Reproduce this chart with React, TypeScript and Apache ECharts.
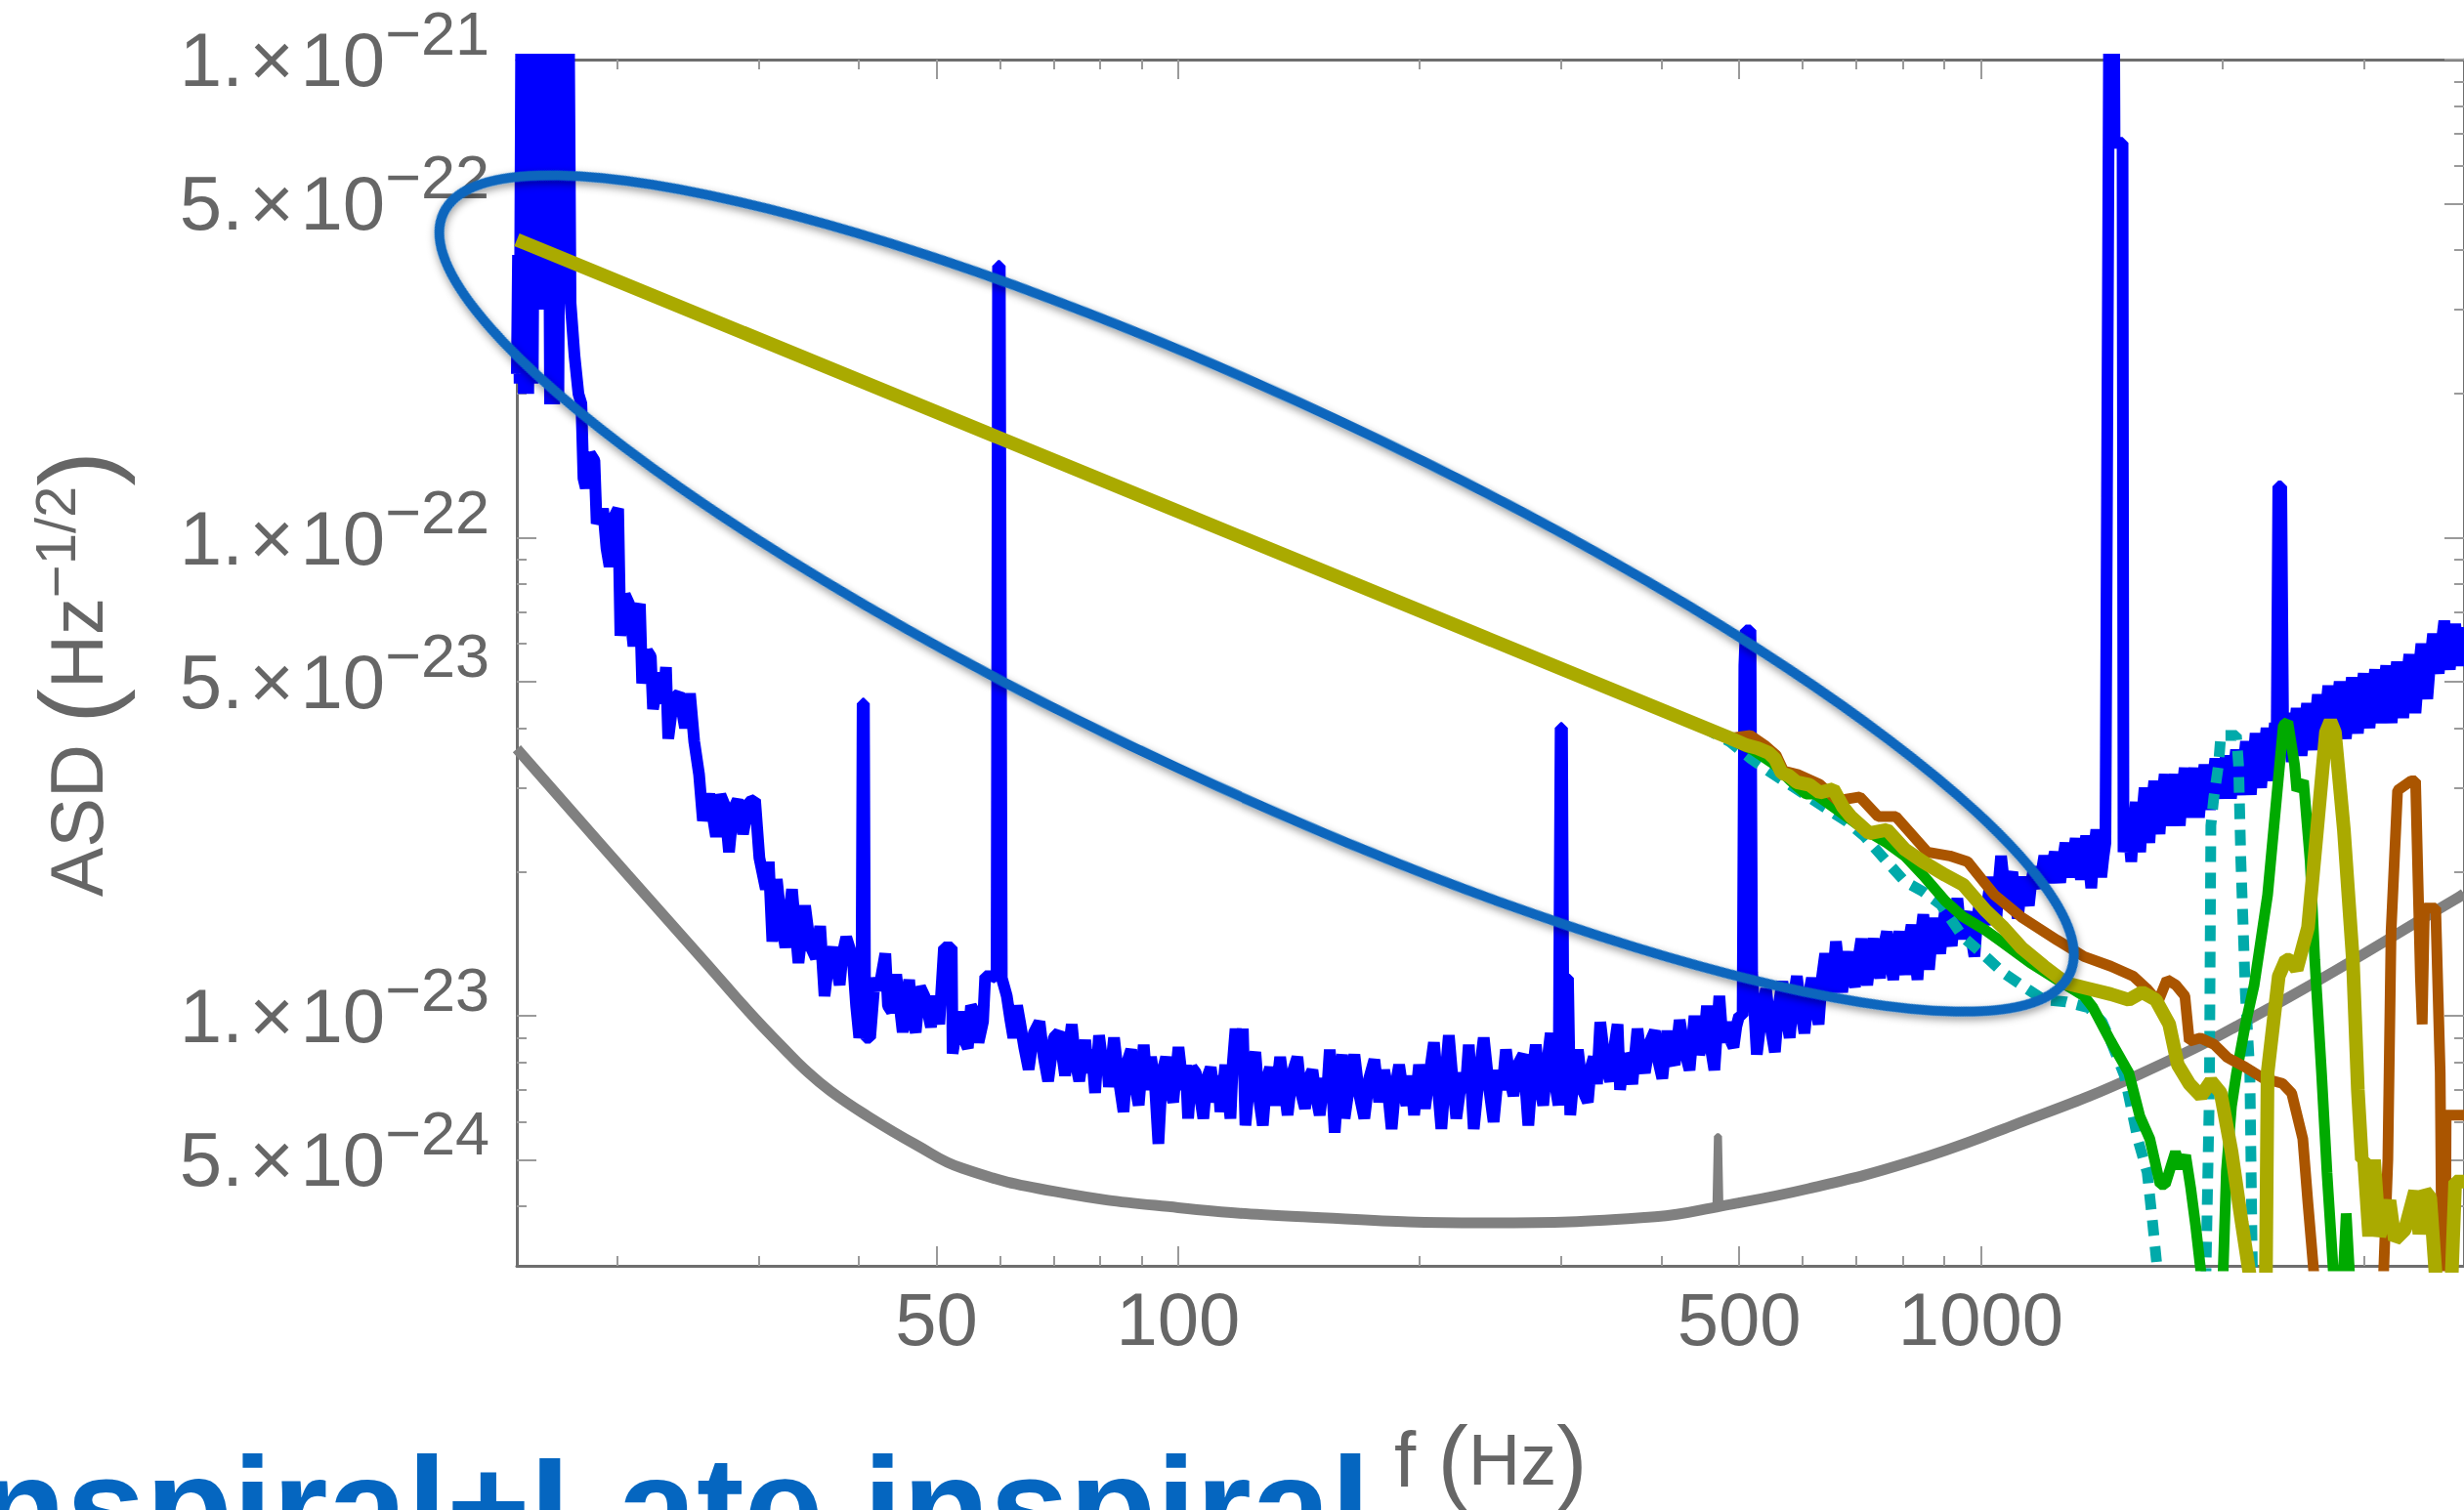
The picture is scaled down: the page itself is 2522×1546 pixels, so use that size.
import React, { useEffect, useRef } from "react";
import * as echarts from "echarts";

// ---------- axis ticks ----------
const xMajorTicks = [50, 100, 500, 1000];
const xMinorTicks = [20, 30, 40, 60, 70, 80, 90, 200, 300, 400, 600, 700, 800, 900, 2000, 3000];
const yMajorTicks = [5e-24, 1e-23, 5e-23, 1e-22, 5e-22, 1e-21];
const yMinorTicks = [4e-24, 6e-24, 7e-24, 8e-24, 9e-24, 2e-23, 3e-23, 4e-23, 6e-23, 7e-23, 8e-23, 9e-23, 2e-22, 3e-22, 4e-22, 6e-22, 7e-22, 8e-22, 9e-22];
const xRange = [15, 4000];
const yRange = [3e-24, 1e-21];
// ECharts rounds very small numbers, so the y values are plotted in units of 1e-24
const Y_UNIT = 1e-24;

// ---------- design sensitivity (gray) ----------
const designASD: [number, number][] = [
  [15, 3.62e-23], [20.6, 1.975e-23], [25.8, 1.29e-23], [29.5, 1.0e-23], [32.3, 8.53e-24], [34.2, 7.75e-24],
  [36.9, 6.96e-24], [41.1, 6.16e-24], [47.1, 5.38e-24], [53.8, 4.8e-24], [70.2, 4.29e-24], [100, 3.97e-24],
  [143, 3.8e-24], [240, 3.69e-24], [393, 3.8e-24], [475, 4.0e-24], [610, 4.35e-24], [817, 4.95e-24],
  [1094, 5.89e-24], [1581, 7.56e-24], [2294, 1.04e-23], [3896, 1.75e-23], [4000, 1.8e-23],
];
const designLine: [number, number][] = [
  [464, 3.96e-24], [467, 3.98e-24], [469, 5.6e-24], [472, 5.6e-24], [474, 3.95e-24], [477, 4.0e-24],
];

// ---------- measured detector noise (blue) ----------
const measuredASD: [number, number][] = [
  [15.0, 2.2e-22], [15.05, 3.9e-22], [15.12, 2.1e-22], [15.2, 1.5e-21], [15.3, 2.0e-22], [15.4, 1.5e-21],
  [15.5, 2.0e-22], [15.6, 1.5e-21], [15.7, 2.1e-22], [15.8, 1.5e-21], [15.9, 3.0e-22], [16.0, 1.5e-21],
  [16.1, 3.0e-22], [16.2, 1.5e-21], [16.3, 5.4e-22], [16.4, 1.5e-21], [16.5, 1.9e-22], [16.6, 1.5e-21],
  [16.7, 1.9e-22], [16.8, 1.5e-21], [16.9, 2.0e-22], [17.0, 1.5e-21], [17.1, 3.2e-22], [17.2, 1.5e-21],
  [17.3, 3.2e-22], [17.4, 1.5e-21], [17.5, 3.1e-22], [17.7, 2.4e-22], [17.9, 2.0e-22],
  [18.05, 1.91e-22], [18.16, 1.33e-22], [18.28, 1.27e-22], [18.5, 1.5e-22], [18.74, 1.45e-22], [18.86, 1.07e-22],
  [19.21, 1.15e-22], [19.4, 9.5e-23], [19.57, 8.7e-23], [19.8, 1.1e-22], [20.06, 1.15e-22], [20.19, 6.24e-23],
  [20.45, 7.6e-23], [20.7, 7.27e-23], [20.96, 5.93e-23], [21.2, 7.0e-23], [21.35, 7.27e-23], [21.49, 4.96e-23],
  [21.8, 5.8e-23], [22.03, 5.64e-23], [22.17, 4.38e-23], [22.59, 5.22e-23], [22.8, 4.5e-23], [23.01, 5.36e-23],
  [23.16, 3.8e-23], [23.5, 4.6e-23], [23.89, 4.72e-23], [24.3, 4.0e-23], [24.65, 4.72e-23], [24.95, 3.75e-23],
  [25.3, 3.2e-23], [25.58, 2.56e-23], [26.06, 2.91e-23], [26.56, 2.37e-23], [26.9, 2.9e-23], [27.23, 2.76e-23],
  [27.57, 2.2e-23], [27.9, 2.7e-23], [28.27, 2.83e-23], [28.7, 2.4e-23], [29.2, 2.8e-23], [29.71, 2.83e-23],
  [30.08, 2.14e-23], [30.64, 1.84e-23], [30.9, 2.1e-23], [31.22, 1.43e-23], [31.62, 1.93e-23], [32.0, 1.6e-23],
  [32.41, 1.39e-23], [33.03, 1.84e-23], [33.65, 1.29e-23], [34.29, 1.7e-23], [34.8, 1.4e-23], [35.37, 1.32e-23],
  [35.81, 1.54e-23], [36.26, 1.1e-23], [36.7, 1.3e-23], [37.17, 1.39e-23], [37.87, 1.16e-23], [38.2, 1.35e-23],
  [38.59, 1.46e-23], [39.32, 1.32e-23], [39.7, 1.05e-23], [40.06, 9.0e-24],
  [40.3, 9.5e-24], [40.45, 4.5e-23], [40.6, 4.5e-23], [40.75, 9.0e-24], [41.33, 9.0e-24],
  [41.9, 1.2e-23], [42.37, 1.13e-23], [43.17, 1.35e-23], [43.5, 1.05e-23], [43.98, 1.02e-23], [44.54, 1.22e-23],
  [45.38, 9.24e-24], [46.23, 1.19e-23], [46.6, 9.8e-24], [47.1, 9.24e-24], [47.7, 1.15e-23], [48.3, 1.1e-23],
  [49.21, 9.48e-24], [49.82, 1.1e-23], [50.4, 9.6e-24], [51.08, 1.39e-23], [52.23, 1.39e-23], [52.36, 8.34e-24],
  [53.35, 1.02e-23], [54.0, 9.0e-24], [54.7, 8.56e-24], [55.2, 1.05e-23], [55.73, 1.02e-23], [56.4, 8.8e-24],
  [57.14, 9.72e-24], [57.5, 1.21e-23], [58.81, 1.21e-23],
  [59.4, 1.2e-23], [59.65, 3.7e-22], [59.95, 3.7e-22], [60.3, 1.2e-23],
  [61.17, 1.1e-23], [61.8, 9.8e-24], [62.33, 9.0e-24], [63.0, 1.05e-23], [63.52, 9.72e-24], [64.3, 8.6e-24],
  [65.12, 7.73e-24], [66.1, 9.2e-24], [67.19, 9.72e-24], [68.0, 8.2e-24], [68.87, 7.3e-24], [70.0, 9.0e-24],
  [71.05, 9.24e-24], [72.3, 7.5e-24], [73.0, 8.4e-24], [73.7, 9.6e-24], [74.5, 8.0e-24], [75.3, 7.3e-24],
  [76.6, 8.9e-24], [77.3, 7.6e-24], [78.0, 8.5e-24], [78.8, 6.9e-24], [79.7, 9.1e-24], [80.8, 7.6e-24],
  [81.4, 8.3e-24], [82.0, 7.1e-24], [83.2, 9.0e-24], [84.3, 7.4e-24], [85.5, 6.3e-24], [86.4, 8.0e-24],
  [87.4, 8.5e-24], [88.3, 7.2e-24], [89.3, 6.5e-24], [90.6, 8.7e-24], [91.5, 7.0e-24], [92.5, 8.2e-24],
  [93.5, 7.3e-24], [94.5, 5.4e-24], [95.5, 7.6e-24], [96.6, 8.2e-24], [97.6, 7.0e-24], [98.6, 6.6e-24],
  [100.1, 8.6e-24], [101.5, 7.0e-24], [102.2, 7.9e-24], [102.9, 6.1e-24], [104.0, 7.8e-24], [105.2, 7.6e-24],
  [106.3, 6.9e-24], [107.5, 6.1e-24], [108.6, 7.4e-24], [109.8, 7.8e-24], [111.3, 6.6e-24], [112.1, 7.5e-24],
  [112.9, 6.3e-24], [114.5, 7.9e-24], [115.3, 6.9e-24], [116.2, 6.1e-24], [117.0, 8.0e-24], [117.9, 9.4e-24],
  [119.0, 7.8e-24], [120.4, 9.4e-24], [121.3, 5.9e-24], [123.0, 7.6e-24], [124.8, 8.4e-24], [126.0, 6.8e-24],
  [127.5, 5.9e-24], [128.8, 7.3e-24], [130.2, 7.8e-24], [132.0, 6.5e-24], [134.0, 8.2e-24], [135.5, 7.1e-24],
  [136.9, 6.2e-24], [138.8, 7.6e-24], [140.8, 8.2e-24], [142.3, 6.9e-24], [143.9, 6.4e-24], [145.5, 7.4e-24],
  [147.0, 7.7e-24], [148.5, 6.8e-24], [150.1, 6.2e-24], [152.0, 7.4e-24], [153.2, 6.8e-24], [154.5, 8.5e-24],
  [155.6, 7.0e-24], [156.7, 5.7e-24], [158.4, 7.3e-24], [160.1, 8.3e-24], [161.2, 6.1e-24], [163.5, 7.2e-24],
  [165.8, 8.3e-24], [168.0, 6.9e-24], [170.6, 6.1e-24], [173.0, 7.4e-24], [175.6, 8.1e-24], [178.0, 6.6e-24],
  [180.6, 7.7e-24], [182.5, 7.0e-24], [184.5, 5.8e-24], [186.5, 7.1e-24], [188.5, 7.9e-24], [190.5, 7.0e-24],
  [192.5, 6.5e-24], [194.7, 7.5e-24], [196.8, 6.2e-24], [199.6, 7.9e-24], [203.0, 6.4e-24], [205.6, 7.5e-24],
  [208.3, 8.8e-24], [210.5, 7.2e-24], [212.8, 5.8e-24], [215.0, 7.3e-24], [217.4, 9.1e-24], [219.7, 7.4e-24],
  [222.1, 6.1e-24], [226.0, 7.6e-24], [228.0, 6.9e-24], [230.2, 8.7e-24], [231.9, 7.1e-24], [233.5, 5.8e-24],
  [236.9, 7.4e-24], [240.3, 9.0e-24], [243.7, 7.2e-24], [247.2, 6.0e-24], [250.7, 7.7e-24], [253.4, 7.0e-24],
  [256.1, 8.5e-24], [258.9, 7.4e-24], [261.7, 6.8e-24], [265.0, 7.9e-24], [269.2, 8.3e-24], [271.1, 7.0e-24],
  [273.1, 5.9e-24], [276.0, 7.5e-24], [279.0, 8.7e-24], [282.0, 7.2e-24], [285.0, 6.5e-24], [288.1, 7.9e-24],
  [291.2, 9.2e-24], [294.5, 7.3e-24], [297.8, 6.5e-24],
  [299.6, 4.0e-23], [300.8, 4.0e-23], [301.8, 1.2e-23], [306.0, 1.2e-23], [308.0, 6.2e-24],
  [311.4, 7.6e-24], [314.8, 8.5e-24], [319.0, 7.0e-24], [323.9, 6.6e-24], [326.7, 7.8e-24], [329.5, 8.2e-24],
  [332.6, 7.2e-24], [335.7, 9.7e-24], [340.5, 7.9e-24], [345.4, 7.3e-24], [349.1, 8.5e-24], [352.8, 9.6e-24],
  [355.3, 7.0e-24], [359.6, 8.3e-24], [364.0, 8.0e-24], [368.0, 7.2e-24], [373.5, 9.4e-24], [377.5, 8.1e-24],
  [381.5, 7.6e-24], [387.0, 8.8e-24], [392.6, 9.3e-24], [396.8, 8.0e-24], [401.1, 7.4e-24], [406.8, 9.3e-24],
  [411.2, 8.2e-24], [415.6, 7.9e-24], [421.5, 9.8e-24], [428.0, 8.4e-24], [433.7, 7.7e-24], [436.8, 8.8e-24],
  [439.9, 1.0e-23], [446.0, 8.3e-24], [452.6, 9.1e-24], [455.9, 1.05e-23], [460.8, 8.6e-24], [465.7, 7.7e-24],
  [469.0, 9.2e-24], [472.4, 1.1e-23], [477.0, 8.8e-24], [482.6, 9.7e-24], [487.3, 8.9e-24], [492, 8.6e-24],
  [496, 9.5e-24], [500, 1.0e-23],
  [505, 1.0e-23], [507.5, 5.4e-23], [509.5, 6.4e-23], [516.5, 6.4e-23], [519, 1.23e-23], [526, 8.3e-24],
  [533, 1.0e-23], [540, 1.14e-23], [547, 9.5e-24], [554, 8.4e-24], [560, 1.05e-23], [566, 1.18e-23],
  [572, 1.0e-23], [578, 9.0e-24], [584, 1.08e-23], [590, 1.21e-23], [597, 1.02e-23], [603, 9.2e-24],
  [610, 1.1e-23], [616, 1.2e-23], [622, 1.05e-23], [628, 9.6e-24], [634, 1.2e-23], [640, 1.35e-23],
  [646, 1.2e-23], [652, 1.12e-23], [660, 1.43e-23], [666, 1.25e-23], [672, 1.12e-23], [678, 1.28e-23],
  [684, 1.36e-23], [690, 1.22e-23], [697, 1.15e-23], [704, 1.32e-23], [710, 1.45e-23], [716, 1.25e-23],
  [722, 1.16e-23], [729, 1.33e-23], [735, 1.45e-23], [742, 1.3e-23], [749, 1.2e-23], [756, 1.38e-23],
  [764, 1.5e-23], [771, 1.3e-23], [778, 1.19e-23], [785, 1.38e-23], [792, 1.5e-23], [799, 1.33e-23],
  [806, 1.22e-23], [813, 1.42e-23], [820, 1.55e-23], [827, 1.35e-23], [834, 1.19e-23], [841, 1.45e-23],
  [848, 1.63e-23], [855, 1.4e-23], [862, 1.25e-23], [869, 1.45e-23], [876, 1.6e-23], [883, 1.45e-23],
  [890, 1.35e-23], [898, 1.55e-23], [905, 1.72e-23], [912, 1.5e-23], [920, 1.4e-23], [927, 1.6e-23],
  [935, 1.76e-23], [942, 1.55e-23], [950, 1.45e-23], [958, 1.58e-23], [966, 1.65e-23], [974, 1.45e-23],
  [982, 1.33e-23], [990, 1.6e-23], [998, 1.75e-23], [1006, 1.62e-23], [1014, 1.55e-23], [1022, 1.78e-23],
  [1030, 1.95e-23], [1038, 1.75e-23], [1046, 1.6e-23], [1053, 1.9e-23], [1060, 2.16e-23], [1069, 1.9e-23],
  [1078, 1.75e-23], [1086, 1.9e-23], [1095, 2.0e-23], [1103, 1.75e-23], [1112, 1.6e-23], [1121, 1.8e-23],
  [1130, 1.95e-23], [1139, 1.8e-23], [1148, 1.7e-23], [1156, 1.9e-23], [1165, 2.05e-23], [1174, 1.92e-23],
  [1183, 1.85e-23], [1191, 2.0e-23], [1200, 2.16e-23], [1209, 2.0e-23], [1218, 1.9e-23], [1227, 2.08e-23],
  [1237, 2.2e-23], [1246, 2.02e-23], [1256, 1.9e-23], [1265, 2.1e-23], [1275, 2.3e-23], [1284, 2.1e-23],
  [1294, 1.95e-23], [1303, 2.15e-23], [1313, 2.35e-23], [1323, 2.1e-23], [1333, 1.93e-23], [1343, 2.15e-23],
  [1353, 2.38e-23], [1363, 2.1e-23], [1373, 1.85e-23], [1383, 2.2e-23], [1393, 2.45e-23], [1403, 2.2e-23],
  [1413, 1.95e-23], [1422, 2.15e-23], [1430, 2.3e-23],
  [1446, 1.5e-21], [1465, 1.5e-21], [1468, 6.7e-22], [1502, 6.7e-22], [1506, 2.2e-23],
  [1514, 2.45e-23], [1522, 2.6e-23], [1531, 2.35e-23], [1540, 2.1e-23], [1550, 2.5e-23], [1560, 2.8e-23],
  [1570, 2.45e-23], [1580, 2.2e-23], [1590, 2.65e-23], [1600, 3.0e-23], [1611, 2.6e-23], [1622, 2.3e-23],
  [1633, 2.75e-23], [1645, 3.1e-23], [1657, 2.7e-23], [1670, 2.4e-23], [1682, 2.85e-23], [1695, 3.2e-23],
  [1707, 2.8e-23], [1720, 2.5e-23], [1732, 2.9e-23], [1745, 3.2e-23], [1757, 2.8e-23], [1770, 2.5e-23],
  [1782, 2.95e-23], [1795, 3.3e-23], [1807, 2.9e-23], [1820, 2.6e-23], [1832, 3.0e-23], [1845, 3.3e-23],
  [1857, 2.9e-23], [1870, 2.6e-23], [1885, 3.0e-23], [1900, 3.35e-23], [1915, 3.0e-23], [1930, 2.7e-23],
  [1945, 3.1e-23], [1960, 3.45e-23], [1975, 3.1e-23], [1990, 2.85e-23], [2005, 3.2e-23], [2020, 3.5e-23],
  [2035, 3.15e-23], [2050, 2.85e-23], [2065, 3.25e-23], [2080, 3.6e-23], [2095, 3.2e-23], [2110, 2.9e-23],
  [2125, 3.35e-23], [2140, 3.75e-23], [2155, 3.3e-23], [2170, 2.9e-23], [2185, 3.4e-23], [2200, 3.9e-23],
  [2217, 3.4e-23], [2235, 3.0e-23], [2252, 3.5e-23], [2270, 4.0e-23], [2285, 3.5e-23], [2300, 3.1e-23],
  [2312, 3.6e-23], [2325, 4.1e-23], [2336, 3.4e-23],
  [2348, 1.28e-22], [2368, 1.28e-22], [2382, 3.6e-23],
  [2396, 3.9e-23], [2410, 4.3e-23], [2425, 3.8e-23], [2440, 3.4e-23], [2457, 3.9e-23], [2475, 4.4e-23],
  [2492, 3.9e-23], [2510, 3.5e-23], [2530, 4.0e-23], [2550, 4.5e-23], [2570, 4.0e-23], [2590, 3.6e-23],
  [2610, 4.1e-23], [2630, 4.7e-23], [2650, 4.1e-23], [2670, 3.7e-23], [2690, 4.3e-23], [2710, 4.9e-23],
  [2732, 4.3e-23], [2755, 3.8e-23], [2777, 4.4e-23], [2800, 5.0e-23], [2825, 4.3e-23], [2850, 3.8e-23],
  [2875, 4.5e-23], [2900, 5.1e-23], [2925, 4.4e-23], [2950, 3.9e-23], [2975, 4.6e-23], [3000, 5.2e-23],
  [3025, 4.5e-23], [3050, 4.0e-23], [3075, 4.7e-23], [3100, 5.3e-23], [3125, 4.6e-23], [3150, 4.1e-23],
  [3175, 4.8e-23], [3200, 5.4e-23], [3225, 4.7e-23], [3250, 4.1e-23], [3275, 4.8e-23], [3300, 5.5e-23],
  [3330, 4.8e-23], [3360, 4.2e-23], [3390, 5.0e-23], [3420, 5.7e-23], [3450, 4.9e-23], [3480, 4.3e-23],
  [3510, 5.2e-23], [3540, 6.0e-23], [3570, 5.2e-23], [3600, 4.6e-23], [3630, 5.5e-23], [3660, 6.3e-23],
  [3690, 5.7e-23], [3720, 5.2e-23], [3750, 6.0e-23], [3780, 6.7e-23], [3810, 5.9e-23], [3840, 5.3e-23],
  [3870, 6.0e-23], [3900, 6.6e-23], [3925, 5.9e-23], [3950, 5.4e-23], [3975, 6.0e-23], [4000, 6.5e-23],
];

// ---------- signal spectra ----------
const inspiralOlive: [number, number][] = [
  [15, 4.2e-22], [489, 3.8e-23], [511, 3.68e-23], [527, 3.63e-23], [544, 3.55e-23], [554, 3.45e-23],
  [565, 3.22e-23], [576, 3.18e-23], [590, 3.08e-23], [612, 3.04e-23], [630, 2.93e-23], [655, 2.98e-23],
  [674, 2.73e-23], [689, 2.61e-23], [726, 2.41e-23], [764, 2.45e-23], [804, 2.23e-23], [847, 2.1e-23],
  [903, 1.97e-23], [951, 1.88e-23], [1014, 1.66e-23], [1067, 1.53e-23], [1123, 1.39e-23], [1198, 1.27e-23],
  [1277, 1.17e-23], [1362, 1.14e-23], [1452, 1.11e-23], [1529, 1.08e-23], [1589, 1.12e-23], [1652, 1.08e-23],
  [1717, 9.6e-24], [1760, 7.9e-24], [1820, 7.2e-24], [1881, 6.8e-24], [1936, 7.3e-24], [1990, 6.9e-24],
  [2053, 5.2e-24], [2114, 3.7e-24], [2161, 2.9e-24], [2200, 2.0e-24], [2262, 2.0e-24], [2277, 7.6e-24],
  [2351, 1.21e-23], [2400, 1.31e-23], [2428, 1.31e-23], [2475, 1.25e-23], [2557, 1.53e-23], [2624, 2.45e-23],
  [2692, 3.92e-23], [2727, 4.13e-23], [2762, 3.92e-23], [2834, 2.45e-23], [2908, 1.31e-23], [2950, 7.0e-24],
  [2984, 5.0e-24], [3003, 5.0e-24], [3047, 3.46e-24], [3090, 5.0e-24], [3138, 3.46e-24], [3230, 4.11e-24],
  [3280, 3.4e-24], [3376, 3.57e-24], [3476, 4.3e-24], [3520, 3.5e-24], [3578, 4.3e-24], [3630, 4.17e-24],
  [3686, 2.9e-24], [3750, 2.5e-24], [3850, 2.5e-24], [3900, 4.5e-24], [4000, 4.5e-24],
];
const mergerBrown: [number, number][] = [
  [450, 4.02e-23], [489, 3.81e-23], [516, 3.86e-23], [538, 3.68e-23], [556, 3.51e-23], [568, 3.25e-23],
  [591, 3.2e-23], [630, 3.05e-23], [663, 2.82e-23], [707, 2.87e-23], [745, 2.61e-23], [784, 2.61e-23],
  [858, 2.2e-23], [915, 2.16e-23], [963, 2.1e-23], [1040, 1.79e-23], [1123, 1.61e-23], [1245, 1.44e-23],
  [1345, 1.33e-23], [1452, 1.27e-23], [1549, 1.21e-23], [1610, 1.14e-23], [1663, 1.07e-23], [1706, 1.19e-23],
  [1750, 1.16e-23], [1796, 1.1e-23], [1819, 8.85e-24], [1878, 8.99e-24], [1952, 8.72e-24], [2029, 8.18e-24],
  [2136, 7.81e-24], [2250, 7.4e-24], [2376, 7.22e-24], [2440, 6.89e-24], [2519, 5.53e-24], [2557, 4.04e-24],
  [2600, 2.9e-24], [2650, 2.0e-24], [3150, 2.0e-24], [3215, 5.0e-24], [3245, 1.5e-23], [3306, 2.96e-23],
  [3437, 3.1e-23], [3481, 3.1e-23], [3530, 1.2e-23], [3548, 9.6e-24], [3571, 1.68e-23], [3688, 1.68e-23],
  [3736, 7.6e-24], [3760, 2.0e-24], [3790, 2.0e-24], [3800, 6.2e-24], [4000, 6.2e-24],
];
const mergerGreen: [number, number][] = [
  [450, 4.02e-23], [489, 3.78e-23], [520, 3.6e-23], [554, 3.35e-23], [580, 3.1e-23], [606, 2.91e-23],
  [622, 2.91e-23], [672, 2.65e-23], [717, 2.45e-23], [764, 2.3e-23], [804, 2.16e-23], [847, 1.97e-23],
  [903, 1.74e-23], [951, 1.61e-23], [1014, 1.51e-23], [1067, 1.42e-23], [1153, 1.29e-23], [1245, 1.19e-23],
  [1277, 1.16e-23], [1345, 1.1e-23], [1380, 1.04e-23], [1452, 8.85e-24], [1529, 7.6e-24], [1578, 6.17e-24],
  [1624, 5.53e-24], [1673, 4.44e-24], [1698, 4.44e-24], [1748, 5.19e-24], [1774, 4.8e-24], [1800, 5.11e-24],
  [1826, 4.37e-24], [1853, 3.62e-24], [1881, 2.9e-24], [1900, 2.0e-24], [1990, 2.0e-24], [2023, 4.73e-24],
  [2053, 6.47e-24], [2083, 7.6e-24], [2136, 9.57e-24], [2191, 1.16e-23], [2277, 1.79e-23], [2337, 2.87e-23],
  [2382, 4.05e-23], [2413, 4.12e-23], [2460, 3.35e-23], [2476, 2.96e-23], [2524, 3.1e-23], [2573, 2.1e-23],
  [2607, 1.31e-23], [2658, 7.6e-24], [2700, 4.7e-24], [2750, 2.9e-24], [2800, 2.0e-24], [2830, 2.9e-24],
  [2853, 3.86e-24], [2880, 2.9e-24], [2900, 2.0e-24],
];
const mergerCyan: [number, number][] = [
  [450, 4.02e-23], [486, 3.75e-23], [516, 3.46e-23], [544, 3.25e-23], [586, 3.0e-23], [639, 2.73e-23],
  [681, 2.55e-23], [717, 2.37e-23], [764, 2.1e-23], [804, 1.91e-23], [847, 1.82e-23], [891, 1.71e-23],
  [951, 1.46e-23], [1014, 1.33e-23], [1067, 1.23e-23], [1123, 1.16e-23], [1198, 1.08e-23], [1277, 1.07e-23],
  [1362, 1.04e-23], [1416, 9.72e-24], [1452, 8.85e-24], [1510, 7.5e-24], [1570, 5.5e-24], [1612, 4.7e-24],
  [1637, 3.7e-24], [1661, 2.9e-24], [1690, 2.0e-24], [1900, 2.0e-24], [1927, 7.0e-24], [1935, 2.5e-23],
  [1952, 2.87e-23], [1978, 3.35e-23], [1991, 3.86e-23], [2082, 3.86e-23], [2095, 3.35e-23], [2109, 2.1e-23],
  [2123, 1.53e-23], [2136, 1.12e-23], [2164, 7.6e-24], [2180, 2.9e-24], [2200, 2.0e-24],
];

// annotation ellipse: ends of its major axis, in data coordinates, and its half-width in px
const ellipseTips: [number, number][] = [[12.16, 4.77e-22], [1290, 1.225e-23]];
const ellipseHalfWidth = 196;

const FONT = "'Liberation Sans', Arial, Helvetica, sans-serif";
const GRAY_TXT = "#666666";
const FRAME = "#6e6e6e";
const TICK = "#9a9a9a";

const toPlot = (d: [number, number][]) => d.map(([f, a]) => [f, a / Y_UNIT]);
const scaleTicks = (t: number[]) => t.map((v) => v / Y_UNIT);

function sciLabel(v: number) {
  const real = v * Y_UNIT;
  const e = Math.floor(Math.log10(real) + 1e-9);
  const m = Math.round(real / Math.pow(10, e));
  return `{m|${m}.\u200a×\u200a10}{s|−${-e}}`;
}

function xAxisDef(position: string, ticks: number[], len: number, line: boolean, labels: boolean) {
  return {
    type: "log", logBase: 10, min: xRange[0], max: xRange[1], position,
    axisLine: { show: line, onZero: false, lineStyle: { color: FRAME, width: 3 } },
    axisTick: { show: true, inside: true, length: len, customValues: ticks, lineStyle: { color: TICK, width: 2 } },
    axisLabel: labels
      ? {
          show: true, customValues: ticks, margin: 16, fontSize: 76, color: GRAY_TXT, fontFamily: FONT,
          formatter: (v: number) => String(Math.round(v)),
        }
      : { show: false },
    splitLine: { show: false },
  };
}
function yAxisDef(position: string, ticks: number[], len: number, line: boolean, labels: boolean) {
  const t = scaleTicks(ticks);
  return {
    type: "log", logBase: 10, min: yRange[0] / Y_UNIT, max: yRange[1] / Y_UNIT, position,
    axisLine: { show: line, onZero: false, lineStyle: { color: FRAME, width: 3 } },
    axisTick: { show: true, inside: true, length: len, customValues: t, lineStyle: { color: TICK, width: 2 } },
    axisLabel: labels
      ? {
          show: true, customValues: t, margin: 28, formatter: sciLabel,
          rich: {
            m: { fontSize: 78, color: GRAY_TXT, fontFamily: FONT, verticalAlign: "middle" },
            s: { fontSize: 63, color: GRAY_TXT, fontFamily: FONT, verticalAlign: "middle", padding: [0, 0, 54, 0] },
          },
        }
      : { show: false },
    splitLine: { show: false },
  };
}

function lineSeries(name: string, data: [number, number][], color: string, width: number, extra: any = {}) {
  return {
    name, type: "line", data: toPlot(data), xAxisIndex: 0, yAxisIndex: 0,
    symbol: "none", showSymbol: false, silent: true, clip: true,
    emphasis: { disabled: true },
    lineStyle: { color, width, join: "bevel", ...(extra.lineStyle || {}) },
    smooth: extra.smooth || false,
  };
}

export default function App() {
  const ref = useRef<HTMLDivElement>(null);
  useEffect(() => {
    document.body.style.margin = "0";
    document.body.style.overflow = "hidden";
    const chart = echarts.init(ref.current!, null, { renderer: "svg", width: 2522, height: 1546 });
    chart.setOption({
      animation: false,
      backgroundColor: "#ffffff",
      grid: { left: 529, right: -9, top: 61, bottom: 250 },
      xAxis: [
        xAxisDef("bottom", xMajorTicks, 20, true, true),
        xAxisDef("bottom", xMinorTicks, 10, false, false),
        xAxisDef("top", xMajorTicks, 20, true, false),
        xAxisDef("top", xMinorTicks, 10, false, false),
      ],
      yAxis: [
        yAxisDef("left", yMajorTicks, 20, true, true),
        yAxisDef("left", yMinorTicks, 10, false, false),
        yAxisDef("right", yMajorTicks, 20, true, false),
        yAxisDef("right", yMinorTicks, 10, false, false),
      ],
      series: [
        lineSeries("design", designASD, "#808080", 11, { smooth: 0.45 }),
        lineSeries("designLine", designLine, "#808080", 6),
        lineSeries("measured", measuredASD, "#0000ff", 12),
        lineSeries("cyan", mergerCyan, "#00aaaa", 11, { lineStyle: { type: [16, 11], cap: "butt" } }),
        lineSeries("green", mergerGreen, "#00aa00", 11),
        lineSeries("brown", mergerBrown, "#aa5500", 11),
        lineSeries("olive", inspiralOlive, "#aaaa00", 14),
      ],
    });

    const tips = toPlot(ellipseTips);
    const p1 = chart.convertToPixel({ xAxisIndex: 0, yAxisIndex: 0 }, tips[0]) as unknown as number[];
    const p2 = chart.convertToPixel({ xAxisIndex: 0, yAxisIndex: 0 }, tips[1]) as unknown as number[];
    const ecx = (p1[0] + p2[0]) / 2;
    const ecy = (p1[1] + p2[1]) / 2;
    const erx = Math.hypot(p2[0] - p1[0], p2[1] - p1[1]) / 2;
    const erot = -Math.atan2(p2[1] - p1[1], p2[0] - p1[0]);

    chart.setOption({
      graphic: [
        {
          type: "ellipse", x: ecx, y: ecy, rotation: erot, z: 100,
          shape: { cx: 0, cy: 0, rx: erx, ry: ellipseHalfWidth },
          style: {
            fill: "none", stroke: "#0a66bd", lineWidth: 10,
            shadowBlur: 8, shadowColor: "rgba(0,0,0,0.4)", shadowOffsetX: 2, shadowOffsetY: 3,
          },
        },
        {
          type: "text", x: 78, y: 690, rotation: Math.PI / 2, z: 100,
          style: {
            text: "{a|ASD }{p|(}{a|Hz}{s|−1/2}{p|)}",
            textAlign: "center", textVerticalAlign: "middle", align: "center", verticalAlign: "middle",
            fill: GRAY_TXT,
            rich: {
              a: { fontSize: 76, fontFamily: FONT, fill: GRAY_TXT, color: GRAY_TXT, verticalAlign: "middle" },
              p: { fontSize: 108, fontFamily: FONT, fill: GRAY_TXT, color: GRAY_TXT, verticalAlign: "middle" },
              s: { fontSize: 58, fontFamily: FONT, fill: GRAY_TXT, color: GRAY_TXT, verticalAlign: "middle", padding: [0, 0, 44, 0] },
            },
          },
        },
        {
          type: "text", x: 1427, y: 1494, z: 100,
          style: {
            text: "{f|f }{p|(}{h|Hz}{p|)}",
            textAlign: "left", textVerticalAlign: "middle", align: "left", verticalAlign: "middle",
            fill: GRAY_TXT,
            rich: {
              f: { fontSize: 80, fontFamily: FONT, fill: GRAY_TXT, color: GRAY_TXT, verticalAlign: "middle" },
              h: { fontSize: 74, fontFamily: FONT, fill: GRAY_TXT, color: GRAY_TXT, verticalAlign: "middle" },
              p: { fontSize: 94, fontFamily: FONT, fill: GRAY_TXT, color: GRAY_TXT, verticalAlign: "middle" },
            },
          },
        },
        {
          type: "text", x: -62, y: 1543, z: 100,
          style: {
            text: "Inspiral+Late inspiral",
            font: `bold 146px ${FONT}`,
            fill: "#0566c0",
            textAlign: "left", textVerticalAlign: "middle", align: "left", verticalAlign: "middle",
          },
        },
      ],
    });
    return () => chart.dispose();
  }, []);
  return <div ref={ref} style={{ width: 2522, height: 1546 }} />;
}
